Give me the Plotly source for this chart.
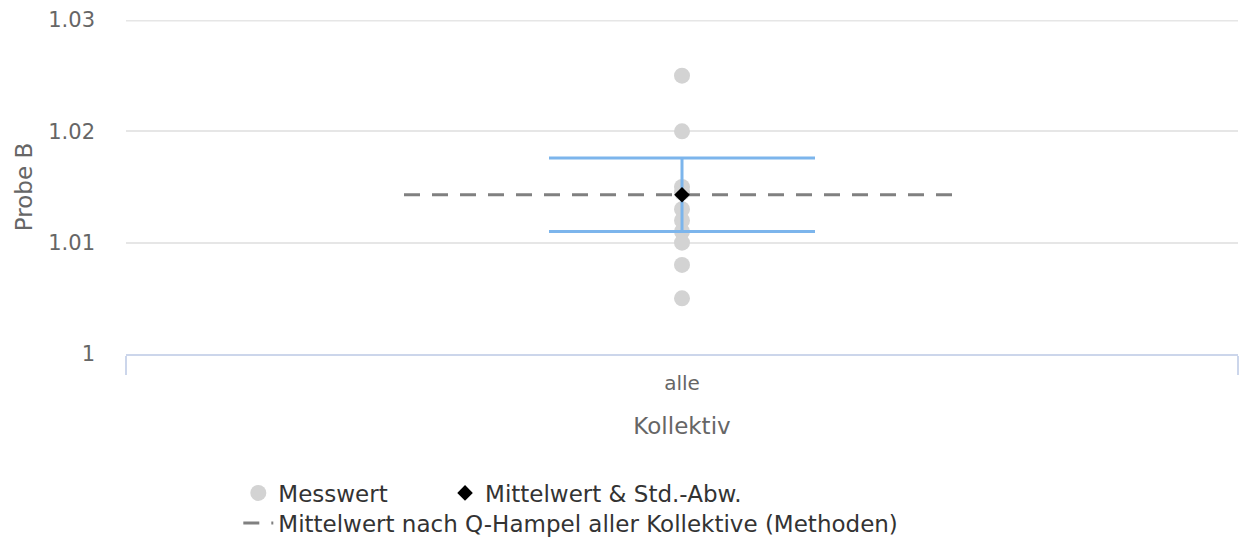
import plotly.graph_objects as go

# ---- data ----
categories = ["alle"]
messwerte = [1.025, 1.020, 1.015, 1.0145, 1.013, 1.012, 1.011, 1.010, 1.008, 1.005]
mittelwert = [1.0143]
std_abw = [0.0033]
hampel_mittelwert = 1.0143
y_ticks = [1.0, 1.01, 1.02, 1.03]
y_ticktext = ["1", "1.01", "1.02", "1.03"]

# ---- style / layout constants ----
FONT = "DejaVu Sans"
HAMPEL_HALF = 0.25
LEG_FONT = dict(family=FONT, size=23, color="#333333")
GRID_COLOR = "#e6e6e6"

cat_pos = list(range(len(categories)))

fig = go.Figure()

fig.add_trace(go.Scatter(
    x=[cat_pos[0]] * len(messwerte), y=messwerte, mode="markers",
    name="Messwert",
    marker=dict(color="#d3d3d3", size=16, symbol="circle"),
    legend="legend",
))

fig.add_trace(go.Scatter(
    x=[cat_pos[0] - HAMPEL_HALF, cat_pos[0] + HAMPEL_HALF],
    y=[hampel_mittelwert, hampel_mittelwert], mode="lines",
    name="Mittelwert nach Q-Hampel aller Kollektive (Methoden)",
    line=dict(color="#808080", width=3, dash="16px,12px"),
    legend="legend3",
))

fig.add_trace(go.Scatter(
    x=cat_pos, y=mittelwert, mode="markers",
    name="Mittelwert & Std.-Abw.",
    marker=dict(color="black", size=12, symbol="diamond"),
    error_y=dict(type="data", array=std_abw, color="#7cb5ec", thickness=3, width=133),
    legend="legend2",
))

# top grid line (plotly omits the grid line on the range edge)
fig.add_hline(y=y_ticks[-1], line=dict(color=GRID_COLOR, width=3), layer="below")

fig.update_layout(
    width=1239, height=541,
    margin=dict(l=126, r=1, t=20, b=187, autoexpand=False),
    paper_bgcolor="white", plot_bgcolor="white",
    font=dict(family=FONT, color="#666666", size=20),
    showlegend=True,
    legend=dict(orientation="h", x=0.101, xanchor="left", y=-0.416, yanchor="middle",
                font=LEG_FONT, bgcolor="rgba(0,0,0,0)"),
    legend2=dict(orientation="h", x=0.2869, xanchor="left", y=-0.416, yanchor="middle",
                 font=LEG_FONT, bgcolor="rgba(0,0,0,0)"),
    legend3=dict(orientation="h", x=0.101, xanchor="left", y=-0.506, yanchor="middle",
                 font=LEG_FONT, bgcolor="rgba(0,0,0,0)"),
    xaxis=dict(
        range=[-0.5, 0.5], tickvals=cat_pos, ticktext=categories,
        showgrid=False, zeroline=False,
        showline=True, linecolor="#ccd6eb", linewidth=2,
        ticks="", ticklabelstandoff=10,
        tickfont=dict(size=20, color="#666666"),
        minor=dict(tickvals=[-0.5, 0.5], ticks="outside", ticklen=19, tickcolor="#ccd6eb", tickwidth=2, showgrid=False),
        title=dict(text="Kollektiv", font=dict(size=23, color="#666666"), standoff=24),
        fixedrange=True,
    ),
    yaxis=dict(
        range=[1.0, 1.03], tickvals=y_ticks, ticktext=y_ticktext,
        showgrid=True, gridcolor=GRID_COLOR, gridwidth=2,
        zeroline=False, showline=False, ticks="", ticklabelstandoff=30,
        tickfont=dict(size=21, color="#666666"),
        title=dict(text="Probe B", font=dict(size=23, color="#666666"), standoff=9),
        fixedrange=True,
    ),
)

fig.write_html("out.html", config={"displayModeBar": False},
               post_script="document.body.style.margin='0';document.body.style.overflow='hidden';")
